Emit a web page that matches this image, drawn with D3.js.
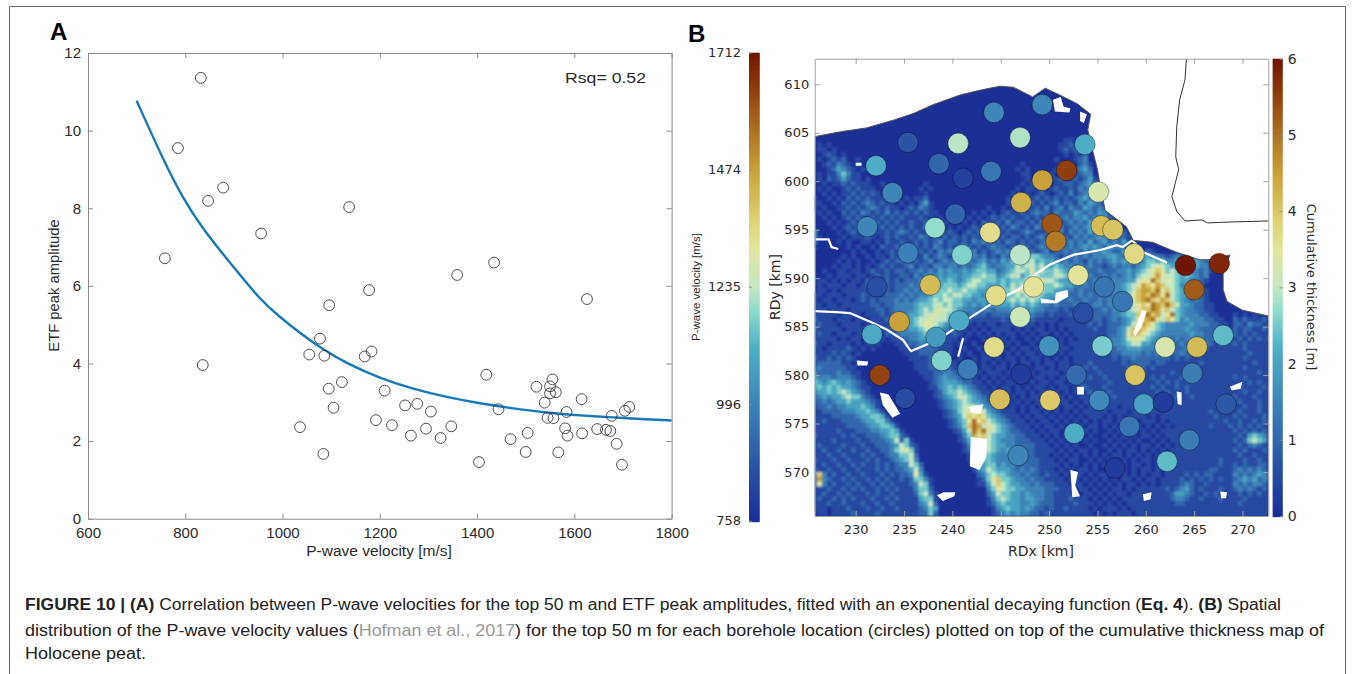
<!DOCTYPE html>
<html>
<head>
<meta charset="utf-8">
<script src="https://d3js.org/d3.v7.min.js"></script>
<style>
  html, body { margin: 0; padding: 0; background: #fff; }
  svg { display: block; }
  .panel-a text { font-family: "Liberation Sans", sans-serif; fill: #2a2a2a; }
  .panel-b text { font-family: "DejaVu Sans", sans-serif; fill: #2a2a2a; }
  .caption text { font-family: "Liberation Sans", sans-serif; font-size: 16px; fill: #222; }
  .axis path, .axis line { stroke: #8a8a8a; }
</style>
</head>
<body>
<svg id="fig" width="1357" height="674"></svg>
<script>
// Panel A
const velocity = [832, 785, 878, 847, 956, 758, 1137, 1178, 836, 1359, 1435, 1626, 1096, 1077, 1055, 1086, 1183, 1169, 1122, 1095,
    1210, 1419, 1105, 1252, 1277, 1305, 1192, 1225, 1264, 1295, 1325, 1347, 1036, 1084, 1404, 1444, 1469, 1504, 1500, 1522,
    1555, 1550, 1562, 1550, 1539, 1545, 1557, 1584, 1581, 1586, 1567, 1615, 1616, 1647, 1665, 1674, 1677, 1687, 1698, 1704, 1713];
const amplitude = [11.36, 9.55, 8.53, 8.19, 7.35, 6.71, 8.03, 5.89, 3.96, 6.28, 6.60, 5.66, 5.50, 4.64, 4.23, 4.20, 4.31, 4.18, 3.52, 3.35,
    3.30, 3.71, 2.86, 2.92, 2.96, 2.76, 2.54, 2.41, 2.14, 2.32, 2.08, 2.38, 2.36, 1.67, 1.46, 2.82, 2.05, 2.21, 1.72, 3.40,
    3.59, 3.41, 3.26, 3.23, 2.99, 2.60, 2.59, 2.75, 2.33, 2.14, 1.71, 3.08, 2.20, 2.31, 2.29, 2.26, 2.65, 1.93, 1.39, 2.78, 2.88];
const fitVelocity = [700, 755, 793, 837, 899, 954, 995, 1036, 1084, 1132, 1200, 1269, 1338, 1406, 1475, 1543, 1612, 1680, 1749, 1800];
const fitAmplitude = [10.77, 9.24, 8.30, 7.44, 6.49, 5.64, 5.19, 4.78, 4.35, 4.00, 3.62, 3.34, 3.13, 2.97, 2.84, 2.73, 2.66, 2.61, 2.56, 2.53];
const xTicksA = [600, 800, 1000, 1200, 1400, 1600, 1800];
const yTicksA = [0, 2, 4, 6, 8, 10, 12];

// Panel B boreholes: RDx, RDy [km] and P-wave velocity [m/s]
const boreX = [244.3, 235.4, 240.6, 247.0, 232.1, 238.6, 241.1, 244.0, 233.8, 240.3, 231.2, 238.2, 243.9, 235.4, 241.0, 247.0, 232.2, 237.7,
    244.5, 247.0, 234.5, 240.7, 231.7, 238.3, 244.3, 238.9, 241.6, 232.5, 247.1, 235.1, 244.9, 246.8, 249.3, 253.7, 249.3, 251.8, 255.1, 247.1,
    250.3, 255.4, 256.6, 250.7, 258.8, 253.0, 264.1, 267.6, 248.4, 255.7, 257.6, 253.5, 265.0, 268.0, 250.0, 255.5, 262.0, 265.3, 252.8, 258.9,
    264.8, 250.1, 255.2, 259.8, 261.8, 268.3, 252.6, 258.3, 264.5, 262.2, 256.8];
const boreY = [607.1, 604.0, 603.9, 604.5, 601.6, 601.8, 600.3, 601.0, 598.8, 596.6, 595.3, 595.2, 594.7, 592.6, 592.4, 592.4, 589.1, 589.3,
    588.2, 586.0, 585.5, 585.6, 584.2, 583.9, 582.9, 581.5, 580.6, 580.0, 580.1, 577.6, 577.5, 571.7, 607.9, 603.8, 600.1, 601.1, 598.9, 597.8,
    595.6, 595.4, 595.0, 593.8, 592.5, 590.3, 591.3, 591.5, 589.1, 589.1, 587.6, 586.4, 588.8, 584.1, 583.0, 583.0, 582.9, 582.9, 580.0, 580.0,
    580.2, 577.4, 577.4, 577.0, 577.2, 577.0, 574.0, 574.7, 573.3, 571.1, 570.4];
const boreP = [1000, 870, 1225, 1215, 1100, 920, 810, 960, 1000, 910, 1000, 1190, 1340, 985, 1170, 1225, 850, 1420,
    1340, 1250, 1470, 1090, 1090, 1050, 1345, 1170, 975, 1630, 800, 840, 1410, 1000, 1000, 1100, 1470, 1640, 1280, 1440,
    1600, 1420, 1400, 1540, 1350, 1320, 1712, 1680, 1320, 950, 960, 850, 1590, 1130, 1030, 1160, 1280, 1420, 930, 1400,
    980, 1390, 1010, 1070, 800, 880, 1100, 960, 980, 1130, 800];

// peat thickness read by eye at 0.5 km, first row RDy 604, first column RDx 225, hex digit = half metres
const peatFirstRow = 604;
const peatFirstCol = 225;
const peatCell = 0.5;
const peatRows = [
    "0000000000 0000000000 0000000000 0000000000 0000000000 0001100100",
    "0010100000 0000000000 0000000000 0000000000 0000000000 0011211000",
    "0011010000 0000000000 0000000000 0000000000 0000000000 0012121000",
    "0001210100 0000000000 0000000000 0000000000 0000000000 0001011200",
    "0010121200 1000000000 0000000000 0000000000 0000000000 0100012300",
    "0001213210 1000000000 0000000000 0000000000 0000100000 0010102310",
    "0000124321 0100000000 0000000000 0000000000 0001010000 0101113420",
    "0010113531 1000000000 0000000000 0000000000 0000110000 1012212330",
    "0010212421 1010000000 0000000000 0000000000 0000010000 1121121241",
    "0001011212 1110010000 0000100000 0000000000 0000101001 0112212342",
    "0010100121 2111000000 0001010000 0000000000 0001011010 1211213243",
    "0001010112 1212100100 0000100000 0000000000 0010010121 0121312342",
    "0100101021 2121110010 1011200000 0000000000 0101101212 1212123423 1",
    "0110010212 1232121101 0102410000 0000000000 0110112121 2312213243 2",
    "0101001121 2123212110 1213210000 0000000100 1012121213 1231322432 32",
    "0010100212 1321213121 2121211000 0000101010 1211212322 1322243232 431",
    "0001010121 2112121212 1112110100 0001010121 2121121213 2123233423 3421",
    "0000101012 1211212121 1211212010 0010102112 1312212132 3212323242 34321",
    "0000010121 2021121212 1211312101 0101212121 2132121323 2131232343 243210",
    "2300001012 1012112123 2121121212 1012121312 1211232112 1231323242 3243320",
    "3310000101 1121012121 1213212121 2121212121 2122121231 3212132323 43232210",
    "2200001010 0110102112 1121212312 2121323212 1321212123 2312323242 3423241100",
    "0100000010 1001021121 2121213212 1232121232 2121321232 3232323434 3243322110",
    "0000000001 0100101212 1112121323 2121312123 2312122123 1223232323 3432243321 21",
    "0000000101 0010110212 1211312321 2212323121 3224435543 3212232323 3344321234 4332123232 33",
    "0000001010 1001012122 2121231232 3223234232 4355556454 4323232132 3234343223 5545334343 4322",
    "0000010110 1010121211 2312213323 3232345323 3446566564 4543323232 2123233234 5676544343 4331",
    "0001001101 1012112122 1223232434 3343455442 3456657565 5654343322 3222334345 6787565453 3231",
    "0000101110 1101212112 2132333434 4344556553 4566456655 5665443232 2323234356 6797665454 3230",
    "0011010101 1021212121 2223243445 4345665554 5455565676 6544332323 2223334467 7a86765443 3210",
    "0010111011 0121212122 2323234455 5456655444 5465667665 5654432323 2233345679 8798665343 2200",
    "1011010111 1111212122 3232344556 5565544434 5566766565 5443323222 3233345689 98a7865443 3210",
    "1110111011 1211212223 2323345565 6655443445 4556565654 4433223232 2323346789 8a97a65443 3210",
    "1101101110 1212122232 3234456566 5544344354 4565656544 3322322322 3233456789 a879865432 3210",
    "1110110111 1112212233 3345556656 5543434344 4454545433 2322232223 3233445678 7a98a86443 22110",
    "1111011101 1111221233 3345656766 5433323323 3343434332 2212122222 2323345678 8a97865433 221100",
    "2111110111 1011121232 3445667665 4322322122 2232323221 2111212122 2223345589 a8967a5433 32211000 10101000",
    "2211101110 1101112123 3456676664 3232111111 2121212111 1101111212 2123234578 9a76875343 33221100 21211121",
    "2121110111 1011111233 4456776543 2211010110 1111111010 1011111121 2122234689 8754333334 33322110 22132211",
    "1211111011 1101011223 3445665432 2110101011 1101010110 1010111112 1122346898 7654333343 32222110 21221121",
    "1121101110 1110102123 3334554321 2101010101 0110101011 0101011111 1122347887 6543333334 33222211 21212111",
    "1111110101 1011010112 2334443211 1010001010 1010010101 1010101111 1123346776 5433323233 33222211 12121212",
    "1211011110 1010100011 2223332211 0100100101 0101001010 1010111112 1123345664 4332332323 32321211 21211111",
    "1110111121 0101000001 1122222111 0010010010 1010110101 0111011111 1122334443 3322322233 32211111 11211111",
    "1111121210 1000000000 1112221101 0101001010 0101011010 1010111111 1112233332 3232222322 22111111 11121111",
    "1211212121 0000000000 0111121010 0100101101 0110101101 0101011111 1112122322 2222212121 11111111 11211111",
    "2122222110 1000000000 0011122111 1010101010 1010110101 1011011121 1111121222 2122111111 12111111 11112111",
    "2232222211 0000000000 0011122212 1110101101 1011010110 1011111212 1111112122 1211111111 11111111 11211111",
    "3322223221 1000000000 0001112233 2111010111 0101101011 1101112111 2111111212 1111121111 11111111 11111211",
    "3433323332 1000000000 0000112343 3212101010 1010110110 1011121121 1211111111 1212111211 11111111 21211111",
    "3543454343 2100000000 0000012344 4322110101 0110101011 0110112111 1121111111 1121212111 11111111 11121211",
    "2454545443 2110000000 0000011345 4543211010 1101010110 1011011211 1211111111 1212112121 11111111 12111121",
    "2344545654 3210000000 0000001245 5654321101 0101101011 0101011121 1121111111 1121211121 11111111 11211211",
    "1234344565 5321000000 0000001234 5665432110 1010101101 0110101112 1112111111 1111212112 11111111 21112111",
    "1223234454 4432100000 0000000123 4565443211 0101010110 1011010111 1111111111 1112111111 11111111 12111211",
    "1122323344 4543100000 0000000123 4566654321 1010101011 0101101011 1111011111 1111111111 11111121 11211211",
    "1112222333 4454310000 0000000012 3567676432 1110101101 0101010111 1101110111 1111111111 11121111 12111211",
    "1111122222 3445541000 0000000012 3468787543 2111010110 1010101011 1010101111 0101111111 11112111 21211121",
    "1112111222 2344553100 0000000001 2457a78654 3211101011 0101010101 0110110101 1101011111 11111121 12112121",
    "2111111122 2234455410 0000000001 2358a96765 4321110101 1010101011 0101011010 1010101111 11121112 12121211",
    "2111112111 2223344541 0000000000 1246a8a765 4322111010 1101010101 0010101101 0101111111 11111111 21212121",
    "1211111212 1122234552 1000000000 0135978654 4332211101 0101010010 0101010101 1010111111 11111111 12145431",
    "1111121111 2112223462 5100000000 0124687654 3332221110 1010100101 0010101010 0101011111 11111111 21256541",
    "1121111211 1211222346 5210000000 0013577654 4332222111 0101010010 0101010101 1010101111 11111111 12123211",
    "2112112112 1121122356 7510000000 0012566654 3433222111 1010101101 0010101101 0101011111 11111111 21211121",
    "1111211211 1212112335 5620000000 0001455543 3332322111 0101010101 0101101010 1010101111 11111111 12112111",
    "1211121121 1121211234 5630000000 0001355543 3322322211 1010110010 1010010101 1010111111 11111211 11211211",
    "2112112112 1211212123 3652000000 0000244553 4332222211 1101010101 0101010110 1010101111 11111211 21211221",
    "3211211211 2111212122 3463000000 0000134654 4432323211 1010101101 0010110101 1010111111 11122111 23232321",
    "3383121121 1211121212 2374100000 0000023565 5433232212 1101011010 1101010101 0110111121 21221111 32323432",
    "3293211212 1121212112 1255310000 0000012578 5543323221 1110110101 0101011010 1101111212 12121211 23434232",
    "3273121121 2112121211 1236510000 0000011468 6544332322 2111011010 1010101101 0101111232 11211111 32323321",
    "2111211212 1211212121 1135520000 0000000357 6554433332 2211101101 0101101011 1111212342 12111211 23232121",
    "2112112121 1121211211 1125631000 0000000246 5544343332 2111110110 1010110111 1111124432 11212111 12121211",
    "1121121212 1112112121 1114551000 0000000135 6544344332 2111211101 0101011111 1111123321 12111211 11211111",
    "1111211211 1211211211 1113462000 0000000124 5444334322 2111121110 1010101111 1111112211 11111111 12111111",
    "1111011121 1121121121 1112354000 0000000013 4544343221 2112111101 0111010111 1111111111 11111111 11111111",
    "1011011112 1111211111 1112252000 0000000012 3434332212 1111111110 1010111011 1111111111 11111111 11111111"
];

const coast = [[225.76, 604.6], [228.4, 605.1], [231.1, 605.5], [233.9, 606.3], [236.0, 607.0], [238.0, 607.9], [240.8, 608.9], [242.9, 609.4],
    [244.9, 609.8], [246.3, 609.7], [248.3, 608.7], [249.6, 609.6], [251.1, 608.9], [252.9, 608.0], [254.3, 606.9], [254.0, 605.3], [254.5, 603.2],
    [255.0, 601.2], [255.3, 599.4], [255.8, 597.0], [258.0, 595.3], [258.7, 593.9], [260.7, 593.7], [263.1, 592.7], [265.6, 591.9], [266.9, 591.9],
    [268.7, 592.4], [268.0, 590.5], [268.0, 588.8], [268.4, 587.6], [270.0, 586.7], [272.67, 586.1]];
const landCorners = [[272.67, 565.46], [225.76, 565.46]];
const border = [[264.2, 612.6], [264.05, 610.45], [263.5, 608.4], [263.2, 605.6], [263.1, 602.5], [263.4, 601.2], [262.7, 598.4], [263.2, 596.9],
    [264.05, 595.9], [265.8, 596.0], [266.4, 595.7], [269.0, 595.8], [272.67, 595.9]];
const noData = [
    [[250.4, 608.4], [251.2, 608.7], [251.5, 607.7], [252.2, 607.5], [252.1, 607.1], [250.6, 607.2]],
    [[253.2, 607.2], [253.9, 606.9], [253.6, 606.0], [253.2, 606.2]],
    [[241.9, 573.6], [243.6, 573.4], [243.5, 571.5], [242.8, 570.2], [241.8, 570.6]],
    [[241.7, 576.7], [243.2, 577.0], [242.9, 576.0], [242.0, 576.1]],
    [[232.5, 578.2], [233.4, 578.0], [234.6, 576.0], [233.8, 575.6], [232.8, 576.9]],
    [[230.1, 581.5], [231.3, 581.4], [231.2, 581.0], [230.2, 581.0]],
    [[238.4, 567.6], [239.1, 567.9], [240.3, 567.9], [240.2, 567.5], [239.0, 567.0]],
    [[249.1, 587.9], [250.6, 587.7], [250.7, 588.5], [251.9, 588.8], [252, 588.1], [250.8, 587.4], [249.2, 587.4]],
    [[259.6, 586.7], [260.1, 586.6], [259.6, 585.0], [258.9, 584.0], [258.7, 584.4]],
    [[263.2, 578.3], [263.7, 578.2], [263.7, 576.9], [263.3, 577.0]],
    [[252.2, 570.2], [253.0, 570.0], [252.7, 568.6], [253.2, 567.5], [252.4, 567.4]],
    [[259.7, 567.7], [260.6, 567.9], [260.5, 567.2], [259.8, 567.0]],
    [[252.9, 578.8], [253.6, 578.8], [253.6, 578.0], [252.9, 578.0]],
    [[268.7, 578.8], [270.0, 579.3], [269.8, 578.6], [268.9, 578.4]],
    [[267.7, 568.0], [268.4, 567.9], [268.3, 567.3], [267.8, 567.3]],
    [[230.0, 601.9], [230.6, 601.9], [230.6, 601.6], [230.0, 601.6]]
];
const dikes = [
    [[225.76, 586.6], [228.0, 586.5], [229.4, 586.4], [231.5, 585.5], [233.2, 584.7], [234.9, 583.6], [235.6, 582.6], [235.8, 582.4]],
    [[235.8, 582.5], [238.4, 583.6], [239.8, 584.5], [241.8, 585.9], [244.6, 587.7], [247, 588.9], [248.7, 590.5], [250.1, 591.4], [252.5, 592.4],
        [255.3, 592.9], [257, 593.4], [257.6, 593.2], [258.6, 593.9]],
    [[258.6, 593.9], [259.7, 592.7], [262.2, 591.6]],
    [[241.1, 583.8], [240.6, 581.9]],
    [[225.8, 594], [227.2, 594], [227.5, 593.2], [228.2, 593.0]]
];
const xTicksB = [230, 235, 240, 245, 250, 255, 260, 265, 270];
const yTicksB = [570, 575, 580, 585, 590, 595, 600, 605, 610];
const velocityTicks = [758, 996, 1235, 1474, 1712];
const thicknessTicks = [0, 1, 2, 3, 4, 5, 6];

const colorStops = [0, 0.12, 0.25, 0.37, 0.45, 0.5, 0.58, 0.65, 0.75, 0.85, 0.95, 1];
const colorValues = ["#1b2f95", "#2a56a5", "#3d84b8", "#50b0c8", "#90dccc", "#c5e8c4", "#e4e6a0", "#dcd070", "#c8a038", "#a86820", "#862f08", "#6f1500"];
const ramp = d3.scaleLinear().domain(colorStops).range(colorValues).clamp(true);

const svg = d3.select("#fig");

// outer frame of the figure panel
svg.append("path")
    .attr("d", "M9.5,674V6.5H1345.5V674")
    .attr("fill", "none")
    .attr("stroke", "#666");

function boxAxes(g, x, y, xTicks, yTicks, x0, x1, y0, y1, size, padBottom, padLeft) {
    const inward = 5;
    const bottom = d3.axisBottom(x).tickValues(xTicks).tickFormat(d3.format("d")).tickSizeInner(-inward).tickSizeOuter(0).tickPadding(padBottom);
    const left = d3.axisLeft(y).tickValues(yTicks).tickFormat(d3.format("d")).tickSizeInner(-inward).tickSizeOuter(0).tickPadding(padLeft);
    const top = d3.axisTop(x).tickValues(xTicks).tickSizeInner(-inward).tickSizeOuter(0).tickFormat("");
    const right = d3.axisRight(y).tickValues(yTicks).tickSizeInner(-inward).tickSizeOuter(0).tickFormat("");
    g.append("g").attr("class", "axis").attr("transform", `translate(0,${y0})`).call(bottom).style("font-size", size + "px");
    g.append("g").attr("class", "axis").attr("transform", `translate(${x0},0)`).call(left).style("font-size", size + "px");
    g.append("g").attr("class", "axis").attr("transform", `translate(0,${y1})`).call(top);
    g.append("g").attr("class", "axis").attr("transform", `translate(${x1},0)`).call(right);
}

function drawScatter() {
    const g = svg.append("g").attr("class", "panel-a");
    const x = d3.scaleLinear().domain([600, 1800]).range([88, 671.6]);
    const y = d3.scaleLinear().domain([0, 12]).range([518.7, 53]);

    boxAxes(g, x, y, xTicksA, yTicksA, 88, 671.6, 518.7, 53, 15, 9, 7);

    const fit = d3.line()
        .x(d => x(fitVelocity[d]))
        .y(d => y(fitAmplitude[d]))
        .curve(d3.curveBasis);
    g.append("path")
        .attr("d", fit(d3.range(fitVelocity.length)))
        .attr("fill", "none")
        .attr("stroke", "#1878b8")
        .attr("stroke-width", 2.4);

    g.selectAll("circle.pt")
        .data(velocity)
        .join("circle")
        .attr("class", "pt")
        .attr("cx", d => x(d))
        .attr("cy", (d, i) => y(amplitude[i]))
        .attr("r", 5.4)
        .attr("fill", "none")
        .attr("stroke", "#3a3a3a")
        .attr("stroke-width", 0.9);

    g.append("text").attr("x", 565).attr("y", 83).attr("font-size", 15)
        .attr("textLength", 81).attr("lengthAdjust", "spacingAndGlyphs").text("Rsq= 0.52");
    g.append("text").attr("x", 379).attr("y", 556).attr("text-anchor", "middle").attr("font-size", 15.5).text("P-wave velocity [m/s]");
    g.append("text").attr("transform", "translate(59,285.5) rotate(-90)").attr("text-anchor", "middle").attr("font-size", 14.8).text("ETF peak amplitude");
    g.append("text").attr("x", 50).attr("y", 40).attr("font-size", 24).attr("font-weight", "bold").style("fill", "#000").text("A");
}

function drawMap() {
    const g = svg.append("g").attr("class", "panel-b");
    const x = d3.scaleLinear().domain([225.76, 272.67]).range([814.7, 1268.3]);
    const y = d3.scaleLinear().domain([565.46, 612.64]).range([516, 58.7]);
    const thickness = v => ramp(v / 6);
    const velocityColor = v => ramp((v - 758) / (1712 - 758));
    const outline = d3.line().x(d => x(d[0])).y(d => y(d[1]));

    const defs = svg.append("defs");
    defs.append("clipPath").attr("id", "land").append("path").attr("d", outline(coast.concat(landCorners)) + "Z");
    defs.append("filter").attr("id", "soften")
        .attr("filterUnits", "userSpaceOnUse")
        .attr("x", 800).attr("y", 50).attr("width", 490).attr("height", 480)
        .append("feGaussianBlur").attr("stdDeviation", 1.2);

    const land = g.append("g").attr("clip-path", "url(#land)");
    land.append("rect")
        .attr("x", 814.7).attr("y", 58.7).attr("width", 453.6).attr("height", 457.3)
        .attr("fill", colorValues[0]);

    const cells = [];
    peatRows.forEach((row, r) => {
        row.replace(/ /g, "").split("").forEach((c, i) => {
            const v = parseInt(c, 16) / 2;
            if (v > 0) cells.push({ rdx: peatFirstCol + i * peatCell, rdy: peatFirstRow - r * peatCell, v });
        });
    });
    land.append("g").attr("filter", "url(#soften)")
        .selectAll("rect")
        .data(cells)
        .join("rect")
        .attr("x", d => x(d.rdx))
        .attr("y", d => y(d.rdy + peatCell))
        .attr("width", x(peatCell) - x(0) + 0.4)
        .attr("height", y(0) - y(peatCell) + 0.4)
        .attr("fill", d => thickness(d.v));

    land.selectAll("path.nodata")
        .data(noData)
        .join("path")
        .attr("class", "nodata")
        .attr("d", d => outline(d) + "Z")
        .attr("fill", "#fff");

    land.selectAll("path.dike")
        .data(dikes)
        .join("path")
        .attr("class", "dike")
        .attr("d", outline)
        .attr("fill", "none")
        .attr("stroke", "#fff")
        .attr("stroke-width", 2.2);

    g.append("path").attr("d", outline(coast)).attr("fill", "none").attr("stroke", "#555").attr("stroke-width", 1);
    g.append("path").attr("d", outline(border)).attr("fill", "none").attr("stroke", "#333").attr("stroke-width", 1);

    boxAxes(g, x, y, xTicksB, yTicksB, 814.7, 1268.3, 516, 58.7, 13, 9, 5.5);
    g.selectAll(".axis path, .axis line").style("stroke", "#a0a0a0");

    g.selectAll("circle.bore")
        .data(boreP)
        .join("circle")
        .attr("class", "bore")
        .attr("cx", (d, i) => x(boreX[i]))
        .attr("cy", (d, i) => y(boreY[i]))
        .attr("r", 10.3)
        .attr("fill", d => velocityColor(d))
        .attr("stroke", "#000")
        .attr("stroke-opacity", 0.45)
        .attr("stroke-width", 0.8);

    g.append("text").attr("x", 1041).attr("y", 556).attr("text-anchor", "middle").attr("font-size", 14).text("RDx [km]");
    g.append("text").attr("transform", "translate(780,287) rotate(-90)").attr("text-anchor", "middle").attr("font-size", 14).text("RDy [km]");

    colorBar(g, velocityTicks, 758, 1712, 749, 759.7, 520.7, 52.7, velocityColor, "left");
    colorBar(g, thicknessTicks, 0, 6, 1272.7, 1282.7, 516, 58.7, thickness, "right");

    g.append("text").attr("transform", "translate(1307,287) rotate(90)").attr("text-anchor", "middle").attr("font-size", 13).text("Cumulative thickness [m]");
    g.append("text").attr("transform", "translate(700,287) rotate(-90)").attr("text-anchor", "middle")
        .attr("font-size", 11.5).style("font-family", "'Liberation Sans', sans-serif").text("P-wave velocity [m/s]");
    g.append("text").attr("x", 688).attr("y", 42).attr("font-size", 24).attr("font-weight", "bold")
        .style("font-family", "'Liberation Sans', sans-serif").style("fill", "#000").text("B");
}

function colorBar(g, ticks, lo, hi, x0, x1, yBottom, yTop, color, side) {
    const s = d3.scaleLinear().domain([lo, hi]).range([yBottom, yTop]);
    const steps = d3.range(0, Math.ceil(yBottom - yTop));
    g.append("g").selectAll("rect")
        .data(steps)
        .join("rect")
        .attr("x", x0)
        .attr("width", x1 - x0)
        .attr("y", d => yTop + d)
        .attr("height", 1.5)
        .attr("fill", d => color(s.invert(yTop + d + 0.5)));
    const ax = side === "left"
        ? d3.axisLeft(s).tickSizeInner(-3).tickPadding(8)
        : d3.axisRight(s).tickSizeInner(-3).tickPadding(5);
    const a = g.append("g")
        .attr("class", "axis")
        .attr("transform", `translate(${side === "left" ? x0 : x1},0)`)
        .call(ax.tickValues(ticks).tickFormat(d3.format("d")).tickSizeOuter(0))
        .style("font-size", side === "left" ? "13px" : "14px");
    a.select(".domain").remove();
}

function drawCaption() {
    const g = svg.append("g").attr("class", "caption");
    const line1 = g.append("text").attr("x", 25).attr("y", 610).attr("textLength", 1256).attr("lengthAdjust", "spacingAndGlyphs");
    line1.append("tspan").attr("font-weight", "bold").text("FIGURE 10 | (A) ");
    line1.append("tspan").text("Correlation between P-wave velocities for the top 50 m and ETF peak amplitudes, fitted with an exponential decaying function (");
    line1.append("tspan").attr("font-weight", "bold").text("Eq. 4");
    line1.append("tspan").text("). ");
    line1.append("tspan").attr("font-weight", "bold").text("(B) ");
    line1.append("tspan").text("Spatial");

    const line2 = g.append("text").attr("x", 25).attr("y", 636).attr("textLength", 1299).attr("lengthAdjust", "spacingAndGlyphs");
    line2.append("tspan").text("distribution of the P-wave velocity values (");
    line2.append("tspan").style("fill", "#999").text("Hofman et al., 2017");
    line2.append("tspan").text(") for the top 50 m for each borehole location (circles) plotted on top of the cumulative thickness map of");

    g.append("text").attr("x", 25).attr("y", 659).attr("textLength", 121).attr("lengthAdjust", "spacingAndGlyphs").text("Holocene peat.");
}

drawScatter();
drawMap();
drawCaption();
</script>
</body>
</html>
